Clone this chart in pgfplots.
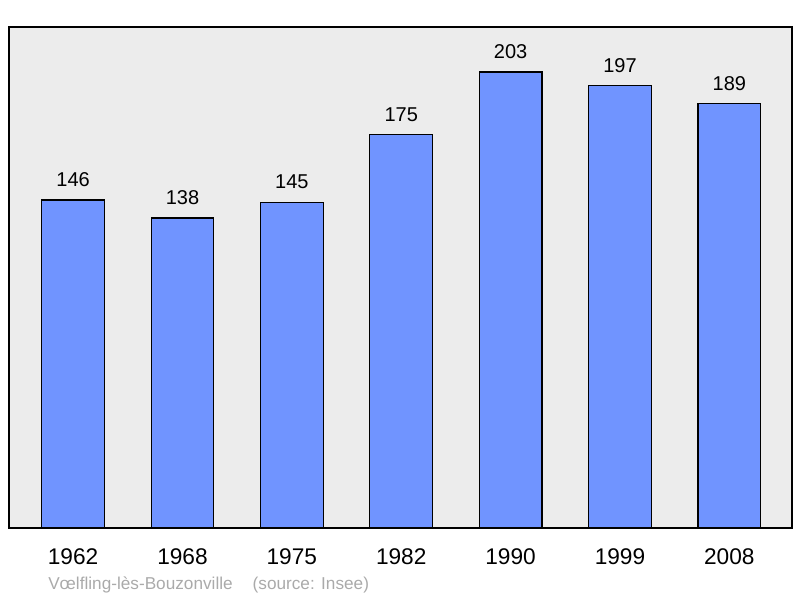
\documentclass[border=0pt]{standalone}
\usepackage{fontspec}
\setmainfont{Liberation Sans}
\usepackage{pgfplots}
\pgfplotsset{compat=1.18}

\definecolor{barblue}{RGB}{112,148,255}
\definecolor{panel}{RGB}{236,236,236}
\definecolor{foot}{RGB}{170,170,170}

\begin{document}
\begin{tikzpicture}[x=0.75pt,y=0.75pt]
\path[use as bounding box] (0,0) rectangle (800,598);
\begin{axis}[
    at={(9*0.75pt,70*0.75pt)},
    anchor=south west,
    scale only axis,
    width=587.25pt,
    height=375.75pt,
    /pgf/number format/assume math mode=true,
    axis background/.style={fill=panel},
    axis line style={line width=1.5pt, black},
    ybar,
    bar width=47pt,
    xmin=-0.586, xmax=6.573,
    ymin=0, ymax=223,
    ytick=\empty,
    xtick=data,
    xticklabels={1962,1968,1975,1982,1990,1999,2008},
    xtick style={draw=none},
    xticklabel style={font=\fontsize{17}{20}\selectfont, yshift=-8pt},
    nodes near coords,
    every node near coord/.append style={font=\fontsize{15}{18}\selectfont, black, yshift=6pt},
    clip=false,
]
\addplot[fill=barblue, draw=black, line width=0.9pt] coordinates {
    (0,146) (1,138) (2,145) (3,175) (4,203) (5,197) (6,189)
};
\end{axis}
\node[anchor=west, text=foot, font=\fontsize{12.9}{15}\selectfont, inner sep=0pt] at (48,13) {Vœlfling-lès-Bouzonville\hspace{15pt}(source: Insee)};
\end{tikzpicture}
\end{document}
